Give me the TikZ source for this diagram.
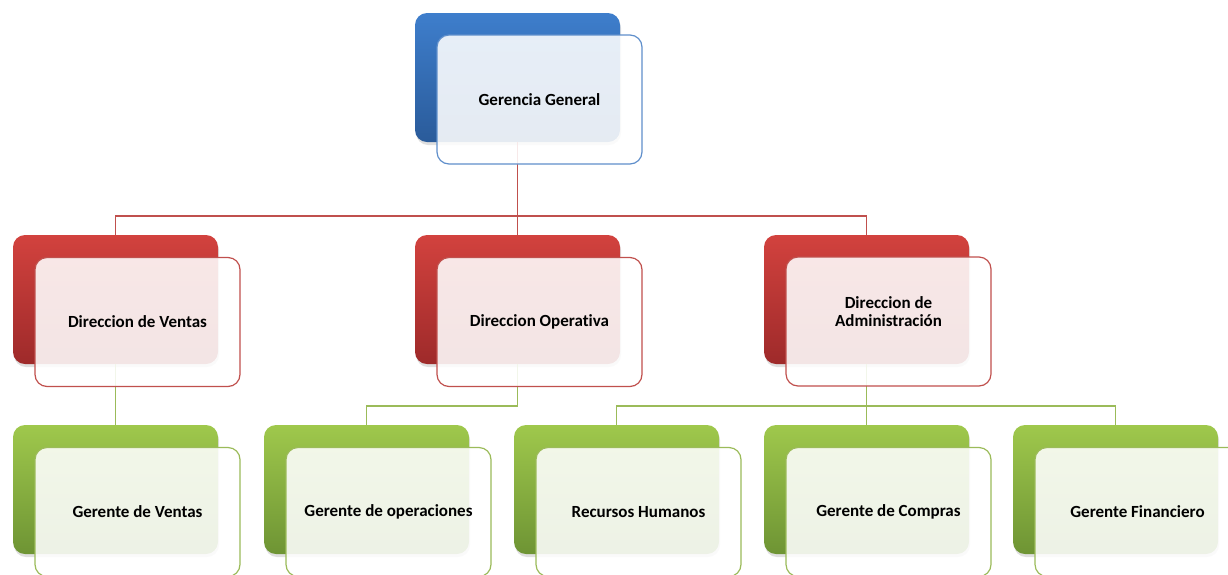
\documentclass[tikz,border=0pt]{standalone}
\usepackage{fontspec}
\setmainfont[Ligatures={NoCommon}]{Carlito}
\usetikzlibrary{shadows}
\definecolor{bluetop}{HTML}{3E7ECC}
\definecolor{bluebot}{HTML}{2A5B9A}
\definecolor{blueline}{HTML}{5F8FCB}
\definecolor{redtop}{HTML}{D2423E}
\definecolor{redbot}{HTML}{9E2A2A}
\definecolor{redline}{HTML}{C0504D}
\definecolor{greentop}{HTML}{9FC84C}
\definecolor{greenbot}{HTML}{6E9434}
\definecolor{greenline}{HTML}{9BBB59}
\tikzset{
  boxbase/.style={rectangle, rounded corners=12pt, minimum width=205pt, minimum height=129pt, inner sep=0pt},
  backbox/.style={boxbase, top color=#1top, bottom color=#1bot, draw=none,
     drop shadow={opacity=0.25, shadow xshift=1pt, shadow yshift=-3pt}},
  frontbox/.style={boxbase, draw=#1line, line width=1.2pt, fill=white, fill opacity=0.88, text opacity=1,
     font=\fontsize{17}{18}\selectfont\bfseries, align=center, text=black},
  redconn/.style={draw=redline, line width=1.3pt},
  greenconn/.style={draw=greenline, line width=1.3pt}
}
\begin{document}
\begin{tikzpicture}[x=1pt,y=-1pt]
\useasboundingbox (0,0) rectangle (1228,574);
% back boxes
\node[backbox=blue] (ggb) at (517.5,77.5) {};
\node[backbox=red] (dvb) at (115.5,299.5) {};
\node[backbox=red] (dob) at (517.5,299.5) {};
\node[backbox=red] (dab) at (866.5,299.5) {};
\node[backbox=green] (gvb) at (115.5,489.5) {};
\node[backbox=green] (gob) at (366.5,489.5) {};
\node[backbox=green] (rhb) at (616.5,489.5) {};
\node[backbox=green] (gcb) at (866.5,489.5) {};
\node[backbox=green] (gfb) at (1115.5,489.5) {};
% connectors
\coordinate (r1) at (517.5,216);
\draw[redconn] (ggb.south) -- (r1);
\draw[redconn] (r1) -| (dvb.north);
\draw[redconn] (r1) -| (dab.north);
\draw[redconn] (r1) -- (dob.north);
\draw[greenconn] (dvb.south) -- (gvb.north);
\coordinate (g1) at (517.5,406);
\draw[greenconn] (dob.south) -- (g1) -| (gob.north);
\coordinate (g2) at (866.5,406);
\draw[greenconn] (dab.south) -- (g2);
\draw[greenconn] (g2) -| (rhb.north);
\draw[greenconn] (g2) -| (gfb.north);
\draw[greenconn] (g2) -- (gcb.north);
% front boxes
\node[frontbox=blue] (gg) at (539.5,99.5) {Gerencia General};
\node[frontbox=red] (dv) at (137.5,322) {Direccion de Ventas};
\node[frontbox=red] (do) at (539.5,322) {Direccion Operativa};
\node[frontbox=red] (da) at (888.5,321.5) {\raisebox{28pt}{\begin{tabular}{@{}c@{}}Direccion de\\Administración\end{tabular}}};
\node[frontbox=green] (gv) at (137.5,512) {Gerente de Ventas};
\node[frontbox=green] (go) at (388.5,512) {Gerente de operaciones};
\node[frontbox=green] (rh) at (638.5,512) {Recursos Humanos};
\node[frontbox=green] (gc) at (888.5,512) {Gerente de Compras};
\node[frontbox=green] (gf) at (1137.5,512) {Gerente Financiero};
\end{tikzpicture}
\end{document}
